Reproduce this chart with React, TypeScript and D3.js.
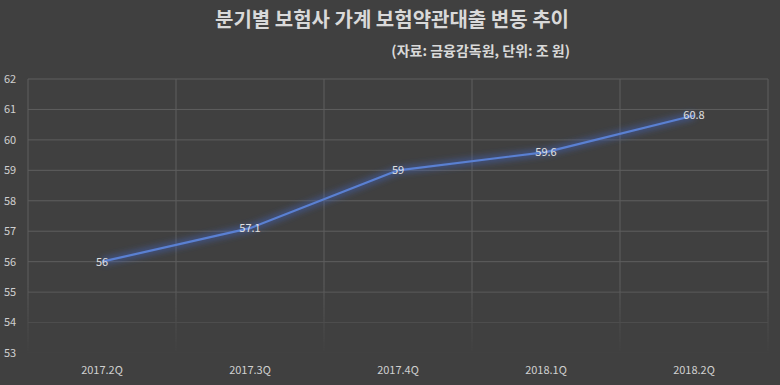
import React from "react";
import * as d3 from "d3";

const categories = ["2017.2Q", "2017.3Q", "2017.4Q", "2018.1Q", "2018.2Q"];
const values = [56, 57.1, 59, 59.6, 60.8];
const yTicks = [53, 54, 55, 56, 57, 58, 59, 60, 61, 62];
const title = "분기별 보험사 가계 보험약관대출 변동 추이";
const subtitle = "(자료: 금융감독원, 단위: 조 원)";

const W = 780, H = 385;
const left = 28, right = 768, top = 79, bottom = 353;

export default function App() {
  const x = d3.scaleBand<string>().domain(categories).range([left, right]).padding(0);
  const y = d3.scaleLinear().domain([53, 62]).range([bottom, top]);
  const line = d3.line<number>()
    .x((_, i) => (x(categories[i]) as number) + x.bandwidth() / 2)
    .y((d) => y(d));
  const path = line(values) || "";
  const font = "'Noto Sans CJK KR', 'Noto Sans', sans-serif";
  const vLines = [...categories.map((c) => x(c) as number), right];
  return (
    <svg width={W} height={H} style={{ position: "absolute", left: 0, top: 0, display: "block" }}>
      <defs>
        <filter id="glow" x="-10%" y="-50%" width="120%" height="200%">
          <feGaussianBlur stdDeviation="3" />
        </filter>
        <linearGradient id="fadeG" gradientUnits="userSpaceOnUse" x1="0" y1={top} x2="0" y2={bottom}>
          <stop offset="0" stopColor="#fff" stopOpacity="1" />
          <stop offset="0.75" stopColor="#fff" stopOpacity="1" />
          <stop offset="1" stopColor="#fff" stopOpacity="0.05" />
        </linearGradient>
        <mask id="gridMask" maskUnits="userSpaceOnUse" x="0" y="0" width={W} height={H}>
          <rect x="0" y="0" width={W} height={H} fill="url(#fadeG)" />
        </mask>
      </defs>
      <rect x="0" y="0" width={W} height={H} fill="#404040" />
      <text x={392} y={27} textAnchor="middle" fill="#d9d9d9" fontFamily={font} fontWeight="bold" fontSize={20}>
        {title}
      </text>
      <text x={570} y={56} textAnchor="end" fill="#d9d9d9" fontFamily={font} fontWeight="bold" fontSize={14}>
        {subtitle}
      </text>
      <g mask="url(#gridMask)">
        {yTicks.map((t) => (
          <line key={t} x1={left} x2={right} y1={y(t)} y2={y(t)} stroke="#5e5e5e" strokeWidth={1} />
        ))}
        {vLines.map((vx, i) => (
          <line key={i} x1={vx} x2={vx} y1={top} y2={bottom} stroke="#5e5e5e" strokeWidth={1} />
        ))}
      </g>
      {yTicks.map((t) => (
        <text key={t} x={4} y={y(t)} dy="0.35em" fill="#d0d0d0" fontFamily={font} fontSize={11}>
          {t}
        </text>
      ))}
      {categories.map((c) => (
        <text key={c} x={(x(c) as number) + x.bandwidth() / 2} y={370} dy="0.35em" textAnchor="middle"
          fill="#d0d0d0" fontFamily={font} fontSize={11}>
          {c}
        </text>
      ))}
      <path d={path} fill="none" stroke="#3f66c8" strokeWidth={7} strokeOpacity={0.5} filter="url(#glow)" />
      <path d={path} fill="none" stroke="#5a80d2" strokeWidth={2.2} strokeLinejoin="round" />
      {values.map((v, i) => (
        <text key={i} x={(x(categories[i]) as number) + x.bandwidth() / 2} y={y(v)} dy="0.35em" textAnchor="middle"
          fill="#e0e0e0" fontFamily={font} fontSize={11}>
          {v}
        </text>
      ))}
    </svg>
  );
}
